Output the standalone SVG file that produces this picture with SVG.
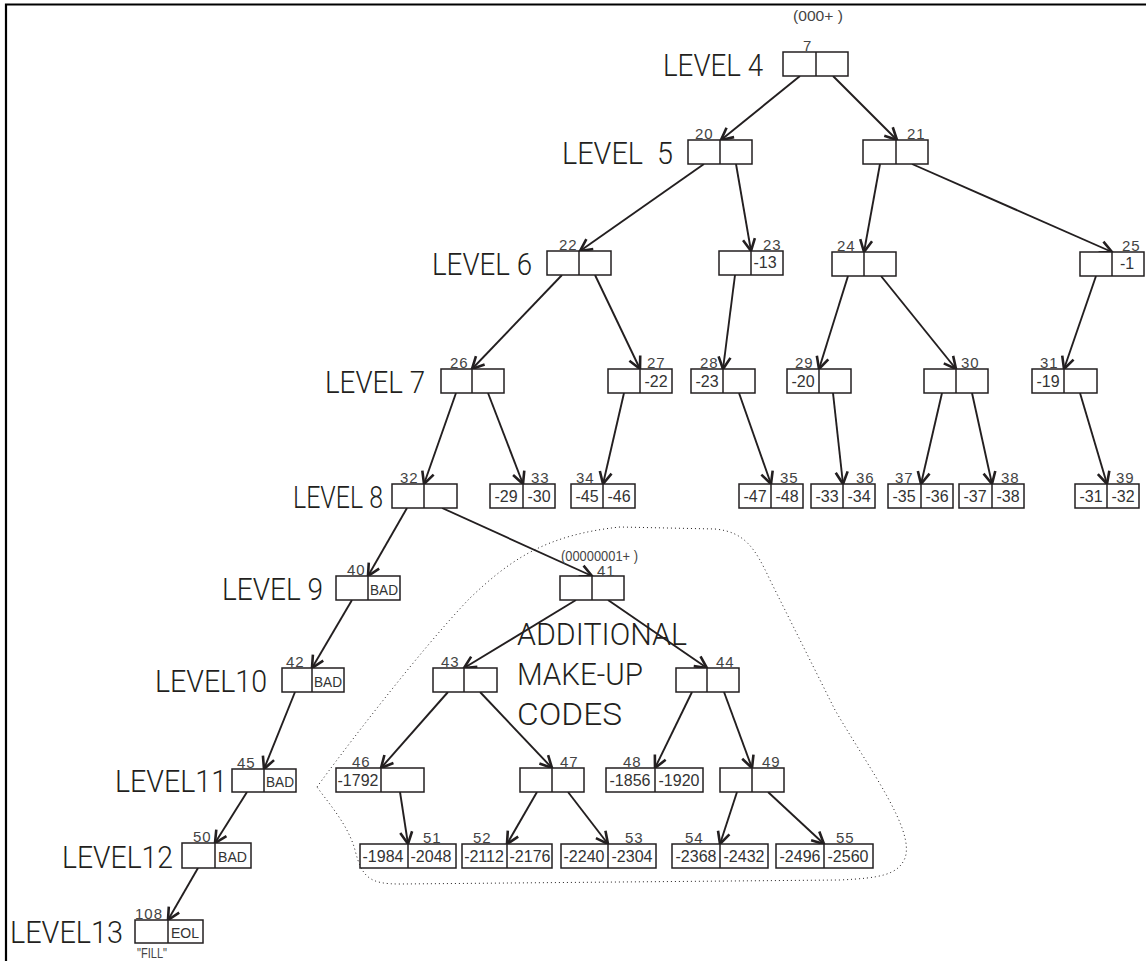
<svg xmlns="http://www.w3.org/2000/svg" width="1146" height="961" viewBox="0 0 1146 961">
<style>
  .frame{fill:none;stroke:#000;stroke-width:2.2}
  .box{fill:#fff;stroke:#231f20;stroke-width:1.5}
  .div{stroke:#231f20;stroke-width:1.5}
  .edge{fill:none;stroke:#231f20;stroke-width:1.9;marker-end:url(#arr)}
  .lvl{font-family:Roboto,"Liberation Sans",sans-serif;font-weight:300;font-size:32px;fill:#231f20;white-space:pre}
  .lab{font-family:"Liberation Sans",Arial,sans-serif;font-size:15px;fill:#444;letter-spacing:1px}
  .val{font-family:"Liberation Sans",Arial,sans-serif;font-size:16px;fill:#333;text-anchor:middle}
  .bad{font-family:"Liberation Sans",Arial,sans-serif;font-size:15px;fill:#333}
  .note{font-family:"Liberation Sans",Arial,sans-serif;font-size:14px;fill:#444}
  .hull{fill:none;stroke:#231f20;stroke-width:1;stroke-dasharray:1 3}
</style>
<defs>
  <marker id="arr" markerUnits="userSpaceOnUse" markerWidth="16" markerHeight="16" viewBox="0 0 16 16" refX="14" refY="8" orient="auto">
    <path d="M2,2 L14,8 L2,14" fill="none" stroke="#231f20" stroke-width="2.6"/>
  </marker>
</defs>

<rect width="1146" height="961" fill="#fff"/>
<!-- page frame: left and top rules -->
<path class="frame" d="M6,961 V4.5 H1146"/>

<!-- level captions -->
<g id="levels">
  <text class="lvl" x="663" y="76" textLength="100" lengthAdjust="spacingAndGlyphs">LEVEL 4</text>
  <text class="lvl" x="562" y="164" textLength="111" lengthAdjust="spacingAndGlyphs">LEVEL  5</text>
  <text class="lvl" x="432" y="275" textLength="100" lengthAdjust="spacingAndGlyphs">LEVEL 6</text>
  <text class="lvl" x="325" y="393" textLength="100" lengthAdjust="spacingAndGlyphs">LEVEL 7</text>
  <text class="lvl" x="293" y="508" textLength="90" lengthAdjust="spacingAndGlyphs">LEVEL 8</text>
  <text class="lvl" x="222" y="600" textLength="101" lengthAdjust="spacingAndGlyphs">LEVEL 9</text>
  <text class="lvl" x="155" y="692" textLength="112" lengthAdjust="spacingAndGlyphs">LEVEL10</text>
  <text class="lvl" x="115" y="792" textLength="112" lengthAdjust="spacingAndGlyphs">LEVEL11</text>
  <text class="lvl" x="62" y="868" textLength="111" lengthAdjust="spacingAndGlyphs">LEVEL12</text>
  <text class="lvl" x="10" y="943" textLength="113" lengthAdjust="spacingAndGlyphs">LEVEL13</text>
</g>

<!-- dotted outline round the make-up subtree -->
<path class="hull" d="M317,787 C340,755 420,650 470,598 C510,560 545,535 620,527 L715,529 C745,532 755,548 770,580 L835,710 C870,770 915,830 905,858 C898,875 880,878 840,880 L400,884 C370,884 362,878 355,850 C348,825 330,805 317,787 Z"/>

<g id="makeup-caption">
  <text class="lvl" x="517" y="645" textLength="170" lengthAdjust="spacingAndGlyphs">ADDITIONAL</text>
  <text class="lvl" x="517" y="685" textLength="126" lengthAdjust="spacingAndGlyphs">MAKE-UP</text>
  <text class="lvl" x="517" y="725" textLength="105" lengthAdjust="spacingAndGlyphs">CODES</text>
</g>

<!-- connectors -->
<g id="edges">
  <line class="edge" x1="800" y1="76" x2="721" y2="140"/>
  <line class="edge" x1="833" y1="76" x2="897" y2="140"/>
  <line class="edge" x1="704" y1="164" x2="580" y2="251"/>
  <line class="edge" x1="736" y1="164" x2="751" y2="251"/>
  <line class="edge" x1="880" y1="164" x2="864" y2="252"/>
  <line class="edge" x1="912" y1="164" x2="1112" y2="252"/>
  <line class="edge" x1="562" y1="275" x2="472" y2="369"/>
  <line class="edge" x1="595" y1="275" x2="640" y2="369"/>
  <line class="edge" x1="735" y1="275" x2="723" y2="369"/>
  <line class="edge" x1="848" y1="276" x2="819" y2="369"/>
  <line class="edge" x1="881" y1="276" x2="956" y2="369"/>
  <line class="edge" x1="1096" y1="276" x2="1064" y2="369"/>
  <line class="edge" x1="456" y1="393" x2="424" y2="484"/>
  <line class="edge" x1="488" y1="393" x2="523" y2="484"/>
  <line class="edge" x1="624" y1="393" x2="603" y2="484"/>
  <line class="edge" x1="739" y1="393" x2="771" y2="484"/>
  <line class="edge" x1="833" y1="393" x2="843" y2="484"/>
  <line class="edge" x1="942" y1="393" x2="921" y2="484"/>
  <line class="edge" x1="972" y1="393" x2="992" y2="484"/>
  <line class="edge" x1="1080" y1="393" x2="1107" y2="484"/>
  <line class="edge" x1="407" y1="508" x2="368" y2="576"/>
  <line class="edge" x1="442" y1="508" x2="592" y2="576"/>
  <line class="edge" x1="352" y1="600" x2="312" y2="668"/>
  <line class="edge" x1="576" y1="600" x2="464" y2="668"/>
  <line class="edge" x1="608" y1="600" x2="707" y2="668"/>
  <line class="edge" x1="295" y1="692" x2="264" y2="769"/>
  <line class="edge" x1="448" y1="692" x2="381" y2="768"/>
  <line class="edge" x1="480" y1="692" x2="552" y2="768"/>
  <line class="edge" x1="692" y1="692" x2="655" y2="768"/>
  <line class="edge" x1="724" y1="692" x2="752" y2="768"/>
  <line class="edge" x1="247" y1="792" x2="215" y2="843"/>
  <line class="edge" x1="400" y1="792" x2="408" y2="844"/>
  <line class="edge" x1="537" y1="792" x2="507" y2="844"/>
  <line class="edge" x1="568" y1="792" x2="608" y2="844"/>
  <line class="edge" x1="737" y1="792" x2="720" y2="844"/>
  <line class="edge" x1="768" y1="792" x2="824" y2="844"/>
  <line class="edge" x1="198" y1="868" x2="168" y2="920"/>
</g>

<!-- nodes -->
<g id="n7"><rect class="box" x="783" y="52" width="65" height="24"/><line class="div" x1="816" y1="52" x2="816" y2="76"/><text class="lab" x="803" y="51">7</text><text class="note" x="793" y="21" textLength="50" lengthAdjust="spacingAndGlyphs">(000+ )</text></g>
<g id="n20"><rect class="box" x="688" y="140" width="64" height="24"/><line class="div" x1="720" y1="140" x2="720" y2="164"/><text class="lab" x="695" y="139">20</text></g>
<g id="n21"><rect class="box" x="863" y="140" width="65" height="24"/><line class="div" x1="896" y1="140" x2="896" y2="164"/><text class="lab" x="907" y="139">21</text></g>

<g id="n22"><rect class="box" x="547" y="251" width="64" height="24"/><line class="div" x1="579" y1="251" x2="579" y2="275"/><text class="lab" x="559" y="250">22</text></g>
<g id="n23"><rect class="box" x="719" y="251" width="64" height="24"/><line class="div" x1="751" y1="251" x2="751" y2="275"/><text class="val" x="765" y="268">-13</text><text class="lab" x="763" y="250">23</text></g>
<g id="n24"><rect class="box" x="832" y="252" width="64" height="24"/><line class="div" x1="864" y1="252" x2="864" y2="276"/><text class="lab" x="837" y="251">24</text></g>
<g id="n25"><rect class="box" x="1080" y="252" width="64" height="24"/><line class="div" x1="1112" y1="252" x2="1112" y2="276"/><text class="val" x="1127" y="269">-1</text><text class="lab" x="1122" y="251">25</text></g>

<g id="n26"><rect class="box" x="441" y="369" width="63" height="24"/><line class="div" x1="472" y1="369" x2="472" y2="393"/><text class="lab" x="450" y="368">26</text></g>
<g id="n27"><rect class="box" x="608" y="369" width="64" height="24"/><line class="div" x1="640" y1="369" x2="640" y2="393"/><text class="val" x="656" y="387">-22</text><text class="lab" x="647" y="368">27</text></g>
<g id="n28"><rect class="box" x="691" y="369" width="64" height="24"/><line class="div" x1="723" y1="369" x2="723" y2="393"/><text class="val" x="707" y="387">-23</text><text class="lab" x="700" y="368">28</text></g>
<g id="n29"><rect class="box" x="787" y="369" width="64" height="24"/><line class="div" x1="819" y1="369" x2="819" y2="393"/><text class="val" x="803" y="387">-20</text><text class="lab" x="795" y="368">29</text></g>
<g id="n30"><rect class="box" x="924" y="369" width="64" height="24"/><line class="div" x1="956" y1="369" x2="956" y2="393"/><text class="lab" x="961" y="368">30</text></g>
<g id="n31"><rect class="box" x="1032" y="369" width="65" height="24"/><line class="div" x1="1064" y1="369" x2="1064" y2="393"/><text class="val" x="1048" y="387">-19</text><text class="lab" x="1040" y="368">31</text></g>

<g id="n32"><rect class="box" x="392" y="484" width="65" height="24"/><line class="div" x1="424" y1="484" x2="424" y2="508"/><text class="lab" x="400" y="483">32</text></g>
<g id="n33"><rect class="box" x="490" y="484" width="65" height="24"/><line class="div" x1="523" y1="484" x2="523" y2="508"/><text class="val" x="506" y="502">-29</text><text class="val" x="539" y="502">-30</text><text class="lab" x="531" y="483">33</text></g>
<g id="n34"><rect class="box" x="571" y="484" width="64" height="24"/><line class="div" x1="603" y1="484" x2="603" y2="508"/><text class="val" x="587" y="502">-45</text><text class="val" x="619" y="502">-46</text><text class="lab" x="576" y="483">34</text></g>
<g id="n35"><rect class="box" x="739" y="484" width="64" height="24"/><line class="div" x1="771" y1="484" x2="771" y2="508"/><text class="val" x="755" y="502">-47</text><text class="val" x="787" y="502">-48</text><text class="lab" x="780" y="483">35</text></g>
<g id="n36"><rect class="box" x="811" y="484" width="64" height="24"/><line class="div" x1="843" y1="484" x2="843" y2="508"/><text class="val" x="827" y="502">-33</text><text class="val" x="859" y="502">-34</text><text class="lab" x="856" y="483">36</text></g>
<g id="n37"><rect class="box" x="888" y="484" width="65" height="24"/><line class="div" x1="921" y1="484" x2="921" y2="508"/><text class="val" x="904" y="502">-35</text><text class="val" x="937" y="502">-36</text><text class="lab" x="895" y="483">37</text></g>
<g id="n38"><rect class="box" x="959" y="484" width="65" height="24"/><line class="div" x1="992" y1="484" x2="992" y2="508"/><text class="val" x="975" y="502">-37</text><text class="val" x="1008" y="502">-38</text><text class="lab" x="1001" y="483">38</text></g>
<g id="n39"><rect class="box" x="1075" y="484" width="64" height="24"/><line class="div" x1="1107" y1="484" x2="1107" y2="508"/><text class="val" x="1091" y="502">-31</text><text class="val" x="1123" y="502">-32</text><text class="lab" x="1116" y="483">39</text></g>

<g id="n40"><rect class="box" x="336" y="576" width="64" height="24"/><line class="div" x1="368" y1="576" x2="368" y2="600"/><text class="bad" x="370" y="595" textLength="28" lengthAdjust="spacingAndGlyphs">BAD</text><text class="lab" x="347" y="575">40</text></g>
<g id="n41"><rect class="box" x="560" y="576" width="64" height="24"/><line class="div" x1="592" y1="576" x2="592" y2="600"/><text class="lab" x="597" y="576">41</text><text class="note" x="561" y="561" textLength="77" lengthAdjust="spacingAndGlyphs">(00000001+ )</text></g>

<g id="n42"><rect class="box" x="282" y="668" width="62" height="24"/><line class="div" x1="312" y1="668" x2="312" y2="692"/><text class="bad" x="314" y="687" textLength="28" lengthAdjust="spacingAndGlyphs">BAD</text><text class="lab" x="286" y="667">42</text></g>
<g id="n43"><rect class="box" x="433" y="668" width="64" height="24"/><line class="div" x1="464" y1="668" x2="464" y2="692"/><text class="lab" x="441" y="667">43</text></g>
<g id="n44"><rect class="box" x="676" y="668" width="63" height="24"/><line class="div" x1="707" y1="668" x2="707" y2="692"/><text class="lab" x="716" y="667">44</text></g>

<g id="n45"><rect class="box" x="232" y="769" width="64" height="23"/><line class="div" x1="264" y1="769" x2="264" y2="792"/><text class="bad" x="266" y="787" textLength="28" lengthAdjust="spacingAndGlyphs">BAD</text><text class="lab" x="237" y="768">45</text></g>
<g id="n46"><rect class="box" x="336" y="768" width="88" height="24"/><line class="div" x1="381" y1="768" x2="381" y2="792"/><text class="val" x="358" y="786">-1792</text><text class="lab" x="352" y="767">46</text></g>
<g id="n47"><rect class="box" x="520" y="768" width="64" height="24"/><line class="div" x1="552" y1="768" x2="552" y2="792"/><text class="lab" x="560" y="767">47</text></g>
<g id="n48"><rect class="box" x="606" y="768" width="97" height="24"/><line class="div" x1="655" y1="768" x2="655" y2="792"/><text class="val" x="630" y="786">-1856</text><text class="val" x="679" y="786">-1920</text><text class="lab" x="623" y="767">48</text></g>
<g id="n49"><rect class="box" x="720" y="768" width="64" height="24"/><line class="div" x1="752" y1="768" x2="752" y2="792"/><text class="lab" x="762" y="767">49</text></g>

<g id="n50"><rect class="box" x="182" y="843" width="69" height="25"/><line class="div" x1="215" y1="843" x2="215" y2="868"/><text class="bad" x="218" y="862" textLength="29" lengthAdjust="spacingAndGlyphs">BAD</text><text class="lab" x="193" y="842">50</text></g>
<g id="n51"><rect class="box" x="360" y="844" width="96" height="24"/><line class="div" x1="408" y1="844" x2="408" y2="868"/><text class="val" x="383" y="862">-1984</text><text class="val" x="431" y="862">-2048</text><text class="lab" x="423" y="843">51</text></g>
<g id="n52"><rect class="box" x="462" y="844" width="90" height="24"/><line class="div" x1="507" y1="844" x2="507" y2="868"/><text class="val" x="484" y="862">-2112</text><text class="val" x="530" y="862">-2176</text><text class="lab" x="473" y="843">52</text></g>
<g id="n53"><rect class="box" x="561" y="844" width="95" height="24"/><line class="div" x1="608" y1="844" x2="608" y2="868"/><text class="val" x="584" y="862">-2240</text><text class="val" x="632" y="862">-2304</text><text class="lab" x="625" y="843">53</text></g>
<g id="n54"><rect class="box" x="672" y="844" width="96" height="24"/><line class="div" x1="720" y1="844" x2="720" y2="868"/><text class="val" x="696" y="862">-2368</text><text class="val" x="744" y="862">-2432</text><text class="lab" x="685" y="843">54</text></g>
<g id="n55"><rect class="box" x="776" y="844" width="97" height="24"/><line class="div" x1="824" y1="844" x2="824" y2="868"/><text class="val" x="800" y="862">-2496</text><text class="val" x="848" y="862">-2560</text><text class="lab" x="836" y="843">55</text></g>

<g id="n108"><rect class="box" x="135" y="920" width="68" height="23"/><line class="div" x1="168" y1="920" x2="168" y2="943"/><text class="bad" x="171" y="938" textLength="28" lengthAdjust="spacingAndGlyphs">EOL</text><text class="lab" x="135" y="919">108</text><text class="note" x="137" y="958" font-size="12" textLength="30" lengthAdjust="spacingAndGlyphs">"FILL"</text></g>
</svg>
